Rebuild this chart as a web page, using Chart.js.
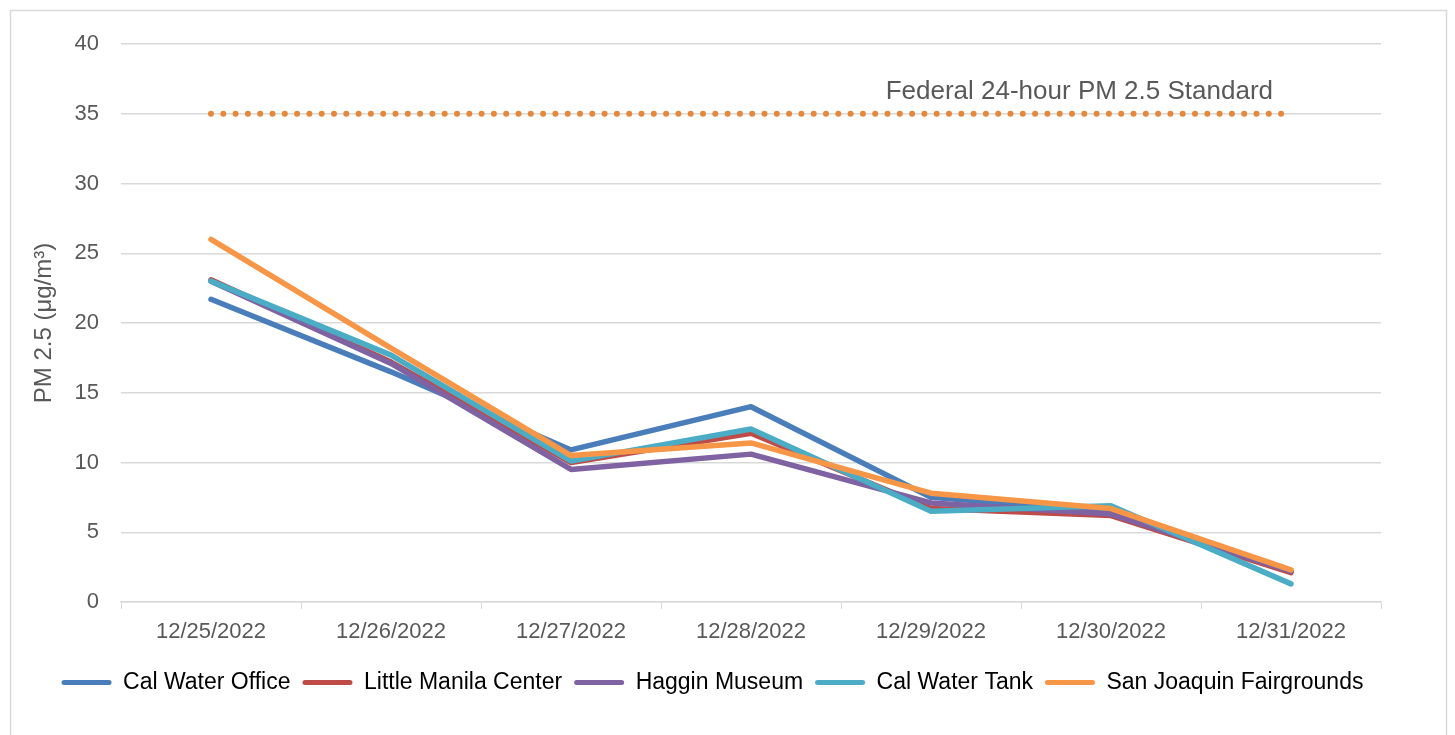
<!DOCTYPE html>
<html>
<head>
<meta charset="utf-8">
<script src="https://cdn.jsdelivr.net/npm/chart.js@4/dist/chart.umd.min.js"></script>
<style>
  html, body { margin: 0; padding: 0; background: #fff; }
  #wrap { width: 1455px; height: 735px; position: relative; }
</style>
</head>
<body>
<div id="wrap"><canvas id="pmChart" width="1455" height="735"></canvas></div>
<script>
const dates = ['12/25/2022', '12/26/2022', '12/27/2022', '12/28/2022', '12/29/2022', '12/30/2022', '12/31/2022'];
const calWaterOffice = [21.7, 16.5, 10.9, 14.0, 7.5, 6.5, 2.2];
const littleManila = [23.1, 17.2, 10.0, 12.1, 6.7, 6.2, 2.1];
const hagginMuseum = [23.0, 17.1, 9.5, 10.6, 7.1, 6.3, 2.2];
const calWaterTank = [23.0, 17.7, 10.1, 12.4, 6.5, 6.9, 1.3];
const fairgrounds = [26.0, 18.2, 10.5, 11.4, 7.8, 6.7, 2.3];
const federalStandard = [35, 35, 35, 35, 35, 35, 35];
const yTicks = [0, 5, 10, 15, 20, 25, 30, 35, 40];

const font = "'Liberation Sans', Arial, sans-serif";

function series(label, data, color, order) {
  return {
    label, data, order,
    borderColor: color,
    backgroundColor: color,
    borderWidth: 5.5,
    borderCapStyle: 'round',
    borderJoinStyle: 'round',
    pointRadius: 0,
    tension: 0
  };
}

// outer frame, standard label, legend nudge
const extras = {
  id: 'extras',
  afterLayout(chart) {
    chart.legend.left += 12;
    chart.legend.right += 12;
  },
  beforeDraw(chart) {
    const ctx = chart.ctx;
    ctx.save();
    ctx.fillStyle = '#fff';
    ctx.fillRect(0, 0, chart.width, chart.height);
    ctx.strokeStyle = '#d9d9d9';
    ctx.lineWidth = 1.5;
    ctx.strokeRect(10.5, 10.5, 1436, 800);
    ctx.restore();
  },
  afterDraw(chart) {
    const ctx = chart.ctx;
    const x = chart.scales.x, y = chart.scales.y;
    ctx.save();
    ctx.fillStyle = '#595959';
    ctx.font = '26px ' + font;
    ctx.textAlign = 'right';
    ctx.textBaseline = 'middle';
    ctx.fillText('Federal 24-hour PM 2.5 Standard', x.getPixelForValue(6) - 18, y.getPixelForValue(35) - 22);
    ctx.restore();
  }
};

new Chart(document.getElementById('pmChart'), {
  type: 'line',
  data: {
    labels: dates,
    datasets: [
      series('Cal Water Office', calWaterOffice, '#4A7EBB', 5),
      series('Little Manila Center', littleManila, '#BE4B48', 4),
      series('Haggin Museum', hagginMuseum, '#7E62A1', 3),
      series('Cal Water Tank', calWaterTank, '#4BACC6', 2),
      series('San Joaquin Fairgrounds', fairgrounds, '#F79646', 1),
      {
        label: 'Federal', data: federalStandard, order: 6,
        borderColor: '#E5883C', borderWidth: 6, borderDash: [0, 12.3],
        borderCapStyle: 'round', pointRadius: 0, tension: 0
      }
    ]
  },
  options: {
    responsive: false,
    animation: false,
    layout: { padding: { left: 20, right: 74, top: 44, bottom: 31 } },
    plugins: {
      tooltip: { enabled: false },
      legend: {
        position: 'bottom',
        labels: {
          color: '#000',
          font: { family: font, size: 23 },
          boxWidth: 50,
          boxHeight: 5,
          padding: 12,
          generateLabels(chart) {
            return Chart.defaults.plugins.legend.labels.generateLabels(chart)
              .filter(l => l.text !== 'Federal')
              .sort((a, b) => a.datasetIndex - b.datasetIndex)
              .map(l => Object.assign(l, { lineWidth: 0, borderRadius: 2.5 }));
          }
        }
      }
    },
    scales: {
      x: {
        offset: true,
        grid: { offset: true, drawOnChartArea: false, color: '#d9d9d9', tickLength: 7 },
        border: { color: '#d9d9d9', width: 1.5 },
        ticks: { color: '#595959', font: { family: font, size: 22 }, padding: 10, maxRotation: 0 },
        afterFit(scale) { scale.height = 57; }
      },
      y: {
        min: 0, max: 40,
        afterBuildTicks(scale) { scale.ticks = yTicks.map(v => ({ value: v })); },
        grid: { color: '#d9d9d9', lineWidth: 1.5, drawTicks: false },
        border: { display: false },
        ticks: { color: '#595959', font: { family: font, size: 22 }, padding: 22 },
        title: {
          display: true,
          text: 'PM 2.5 (μg/m³)',
          color: '#595959',
          font: { family: font, size: 24 },
          padding: { top: 10, bottom: 0 }
        },
        afterFit(scale) { scale.width = 101; }
      }
    }
  },
  plugins: [extras]
});
</script>
</body>
</html>
